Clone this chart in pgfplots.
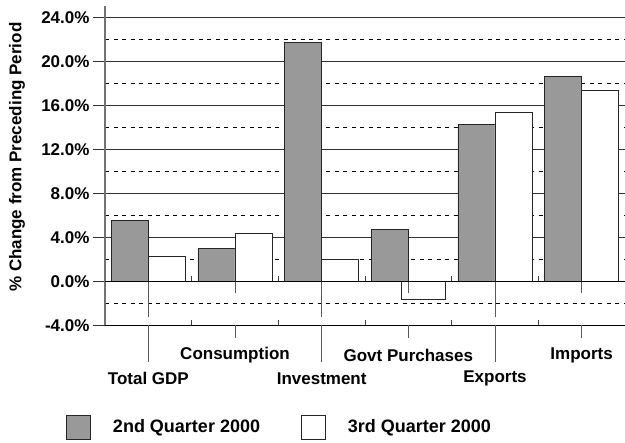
\documentclass[border=0pt]{standalone}
\usepackage{fontspec}
\setmainfont{Liberation Sans}
\usepackage{pgfplots}
\pgfplotsset{compat=1.18}
\newcommand{\cf}{\fontsize{17bp}{20bp}\selectfont\bfseries}
\newcommand{\lf}{\fontsize{18bp}{21bp}\selectfont\bfseries}
\begin{document}
\begin{tikzpicture}
\path[use as bounding box] (0,0) rectangle (625bp,443bp);
\begin{axis}[
  at={(105bp,117.7bp)}, anchor=south west,
  scale only axis, width=520bp, height=319bp,
  xmin=-0.5, xmax=5.5, ymin=-4, ymax=25,
  clip=false,
  axis lines*=left,
  x axis line style={black, line width=0.9bp},
  y axis line style={black!55, line width=1.1bp},
  ytick={-4,0,...,24},
  minor ytick={-2,2,...,22},
  ymajorgrids, yminorgrids,
  major grid style={black!80, line width=0.8bp},
  minor grid style={black, line width=0.6bp, dash pattern=on 4bp off 4.5bp},
  major tick length=12bp, minor tick length=0pt,
  tick align=outside, ytick pos=left,
  ytick style={black!80, line width=0.8bp},
  /pgf/number format/assume math mode=true,
  yticklabel={\pgfmathprintnumber[fixed,fixed zerofill,precision=1]{\tick}\%},
  yticklabel style={font=\cf},
  xtick={1,3,5},
  xticklabels={Consumption, Govt Purchases, Imports},
  extra x ticks={0,2,4},
  extra x tick labels={Total GDP, Investment, Exports},
  xtick style={draw=none},
  extra x tick style={xticklabel style={yshift=-23bp}, tick style={draw=none}},
  xticklabel style={font=\cf, anchor=center, yshift=-18bp},
  ylabel={\% Change from Preceding Period},
  ylabel style={font=\cf, at={([xshift=-88bp]axis description cs:0,0.527)}, anchor=center},
  legend columns=2,
  legend style={at={([xshift=-39bp,yshift=-101.7bp]axis description cs:0,0)}, anchor=west,
    draw=none, fill=none, inner sep=0pt, font=\lf,
    nodes={inner sep=0pt},
    /tikz/every odd column/.append style={column sep=22bp},
    /tikz/every even column/.append style={column sep=41bp}},
  legend image code/.code={\draw[#1] (0bp,-12bp) rectangle (24bp,12bp);},
]
\addplot[ybar, bar width=37bp, bar shift=-18.5bp, fill=black!40, draw=black!85, line width=0.8bp]
  coordinates {(0,5.5) (1,3.0) (2,21.7) (3,4.7) (4,14.3) (5,18.6)};
\addlegendentry{2nd Quarter 2000}
\addplot[ybar, bar width=37bp, bar shift=18.5bp, fill=white, draw=black!85, line width=0.8bp]
  coordinates {(0,2.3) (1,4.4) (2,2.0) (4,15.4) (5,17.4)};
\addlegendentry{3rd Quarter 2000}
\addplot[ybar, bar width=44bp, bar shift=15.3bp, fill=white, draw=black!85, line width=0.8bp, forget plot]
  coordinates {(3,-1.6)};
% category-axis decorations
\draw[black!75, line width=0.8bp]
  (axis cs:0.5,0) -- (axis cs:0.5,0.45) (axis cs:1.5,0) -- (axis cs:1.5,0.45)
  (axis cs:2.5,0) -- (axis cs:2.5,0.45) (axis cs:3.5,0) -- (axis cs:3.5,0.45)
  (axis cs:4.5,0) -- (axis cs:4.5,0.45)
  (axis cs:0.5,-4) -- (axis cs:0.5,-3.55) (axis cs:1.5,-4) -- (axis cs:1.5,-3.55)
  (axis cs:2.5,-4) -- (axis cs:2.5,-3.55) (axis cs:3.5,-4) -- (axis cs:3.5,-3.55)
  (axis cs:4.5,-4) -- (axis cs:4.5,-3.55);
\draw[black!65, line width=0.8bp]
  (axis cs:0,0) -- (axis cs:0,-3.25) (axis cs:2,0) -- (axis cs:2,-3.25) (axis cs:4,0) -- (axis cs:4,-3.25)
  (axis cs:1,0) -- (axis cs:1,-1.06) (axis cs:3,0) -- (axis cs:3,-1.06) (axis cs:5,0) -- (axis cs:5,-1.06)
  (axis cs:0,-4) -- (axis cs:0,-7.3) (axis cs:2,-4) -- (axis cs:2,-7.3) (axis cs:4,-4) -- (axis cs:4,-7.3)
  (axis cs:1,-4) -- (axis cs:1,-5.12) (axis cs:3,-4) -- (axis cs:3,-5.12) (axis cs:5,-4) -- (axis cs:5,-5.12);
\draw[black, line width=0.9bp] (axis cs:-0.5,0) -- (axis cs:5.5,0);
\end{axis}
\end{tikzpicture}
\end{document}
